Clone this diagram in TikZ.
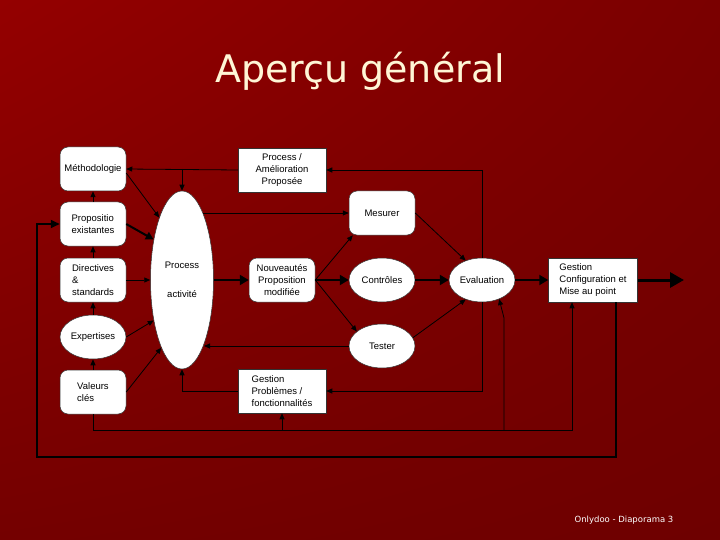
\documentclass[tikz,border=0pt]{standalone}
\usepackage{fontspec}
\setmainfont{Liberation Sans}
\newfontfamily\titlefont{DejaVu Sans}
\usetikzlibrary{shapes.geometric,arrows.meta,shadings}
\definecolor{bgA}{RGB}{148,0,0}
\definecolor{bgB}{RGB}{122,0,0}
\definecolor{bgC}{RGB}{116,0,0}
\definecolor{bgD}{RGB}{110,0,0}
\definecolor{titlec}{RGB}{255,246,214}
\begin{document}
\begin{tikzpicture}[x=1pt,y=-1pt,
  txt/.style={font=\fontsize{9.5}{12}\selectfont},
  box/.style={txt, draw=black!80, line width=0.5pt, fill=white, rounded corners=8pt,
    minimum width=66pt, minimum height=44pt, inner sep=1pt, align=center},
  sqbox/.style={box, rounded corners=0pt, minimum width=88pt},
  ell/.style={txt, draw=black!80, line width=0.5pt, fill=white, ellipse,
    minimum width=66pt, minimum height=44pt, inner sep=0pt, align=center},
  ln/.style={draw=black, line width=0.8pt},
  arr/.style={ln, -{Triangle[length=6pt,width=5pt]}},
  tarr/.style={draw=black, line width=2.6pt, -{Triangle[length=9pt,width=10pt]}},
  bigarr/.style={draw=black, line width=3pt, -{Triangle[length=14pt,width=15pt]}},
  oarr/.style={draw=black, line width=1.8pt, -{Triangle[length=9pt,width=8pt]}},
]
% background
\useasboundingbox (0,0) rectangle (720,540);
\shade[upper left=bgA, upper right=bgB, lower left=bgC, lower right=bgD] (0,0) rectangle (720,540);

% title
\node[anchor=base, font=\titlefont\fontsize{38}{40}\selectfont, text=titlec] (title) at (360,83) {Aperçu général};

% left column
\node[box] (meth) at (93,169) {Méthodologie};
\node[box, align=left] (prop) at (93,224) {Propositio\\existantes};
\node[box, align=left] (dir) at (93,280) {Directives\\\&\\standards};
\node[ell] (exp) at (93,337) {Expertises};
\node[box, align=left] (val) at (93,392) {Valeurs\\clés};

% central ellipse
\node[txt, draw=black!80, line width=0.5pt, fill=white, ellipse, minimum width=63pt,
  minimum height=178pt, inner sep=0pt, align=center] (proc) at (182,280)
  {Process\\[16.5pt]activité};

\node[sqbox] (pa) at (282,170) {Process /\\Amélioration\\Proposée};
\node[box] (nouv) at (282,280) {Nouveautés\\Proposition\\modifiée};
\node[sqbox, align=left] (gp) at (282,391) {Gestion\\Problèmes /\\fonctionnalités};

\node[box] (mes) at (382,213) {Mesurer};
\node[ell] (ctrl) at (382,280) {Contrôles};
\node[ell] (test) at (382,346) {Tester};
\node[ell] (eval) at (482,280) {Evaluation};
\node[sqbox, minimum width=89pt, align=left] (gc) at (593,280) {Gestion\\Configuration et\\Mise au point};

% coordinates
\coordinate (j1) at (182,169);
\coordinate (out) at (684,280);
\coordinate (br) at (572,430);
\coordinate (e1) at (504,430);
\coordinate (e2) at (504,318);
\coordinate (o1) at (616,457);
\coordinate (o2) at (37,457);

% top feedback
\draw[arr] (eval.north) |- (pa.east);
\draw[arr] (pa.west) -- (meth.east);
\draw[arr] (j1) -- (proc.north);

% vertical chain on the left
\draw[arr] (prop.north) -- (meth.south);
\draw[arr] (dir.north) -- (prop.south);
\draw[arr] (exp.north) -- (dir.south);
\draw[arr] (val.north) -- (exp.south);

% inputs to the central ellipse
\draw[arr] ([yshift=-4pt]meth.east) -- (proc.110);
\draw[tarr, line width=2pt, -{Triangle[length=8pt,width=8pt]}] (prop.east) -- (proc.125);
\draw[arr] (dir.east) -- (proc.west);
\draw[arr] (exp.east) -- (proc.235);
\draw[arr] (val.east) -- (proc.253);

% from central ellipse
\draw[tarr] (proc.east) -- (nouv.west);
\draw[arr] ([xshift=21pt]proc.center |- mes.west) -- (mes.west);

% fan out from Nouveautés
\draw[arr] (nouv.east) -- ([xshift=4pt]mes.south west);
\draw[tarr] (nouv.east) -- (ctrl.west);
\draw[arr] (nouv.east) -- (test.150);

% into Evaluation
\draw[arr] (mes.east) -- (eval.130);
\draw[tarr] (ctrl.east) -- (eval.west);
\draw[arr] (test.15) -- (eval.230);

% Tester back to ellipse
\draw[arr] (test.west) -- ([xshift=22pt]proc.center |- test.west);

% Evaluation onwards
\draw[tarr] (eval.east) -- (gc.west);
\draw[bigarr] (gc.east) -- (out);

% Evaluation down to Gestion Problèmes, then back to ellipse
\draw[arr] (eval.south) |- (gp.east);
\draw[arr] (gp.west) -| (proc.south);

% bottom loop
\draw[arr] (val.south) |- (br) -- ([xshift=-21pt]gc.south);
\draw[arr] (gp.south |- br) -- (gp.south);
\draw[arr] (e1) -- (e2) -- (eval.312);

% outer loop
\draw[oarr] ([xshift=23pt]gc.south) -- (o1) -- (o2) |- (prop.west);

% footer
\node[anchor=base, font=\titlefont\fontsize{8.5}{10}\selectfont, text=white] (footer) at (624,522) {Onlydoo - Diaporama 3};
\end{tikzpicture}
\end{document}
